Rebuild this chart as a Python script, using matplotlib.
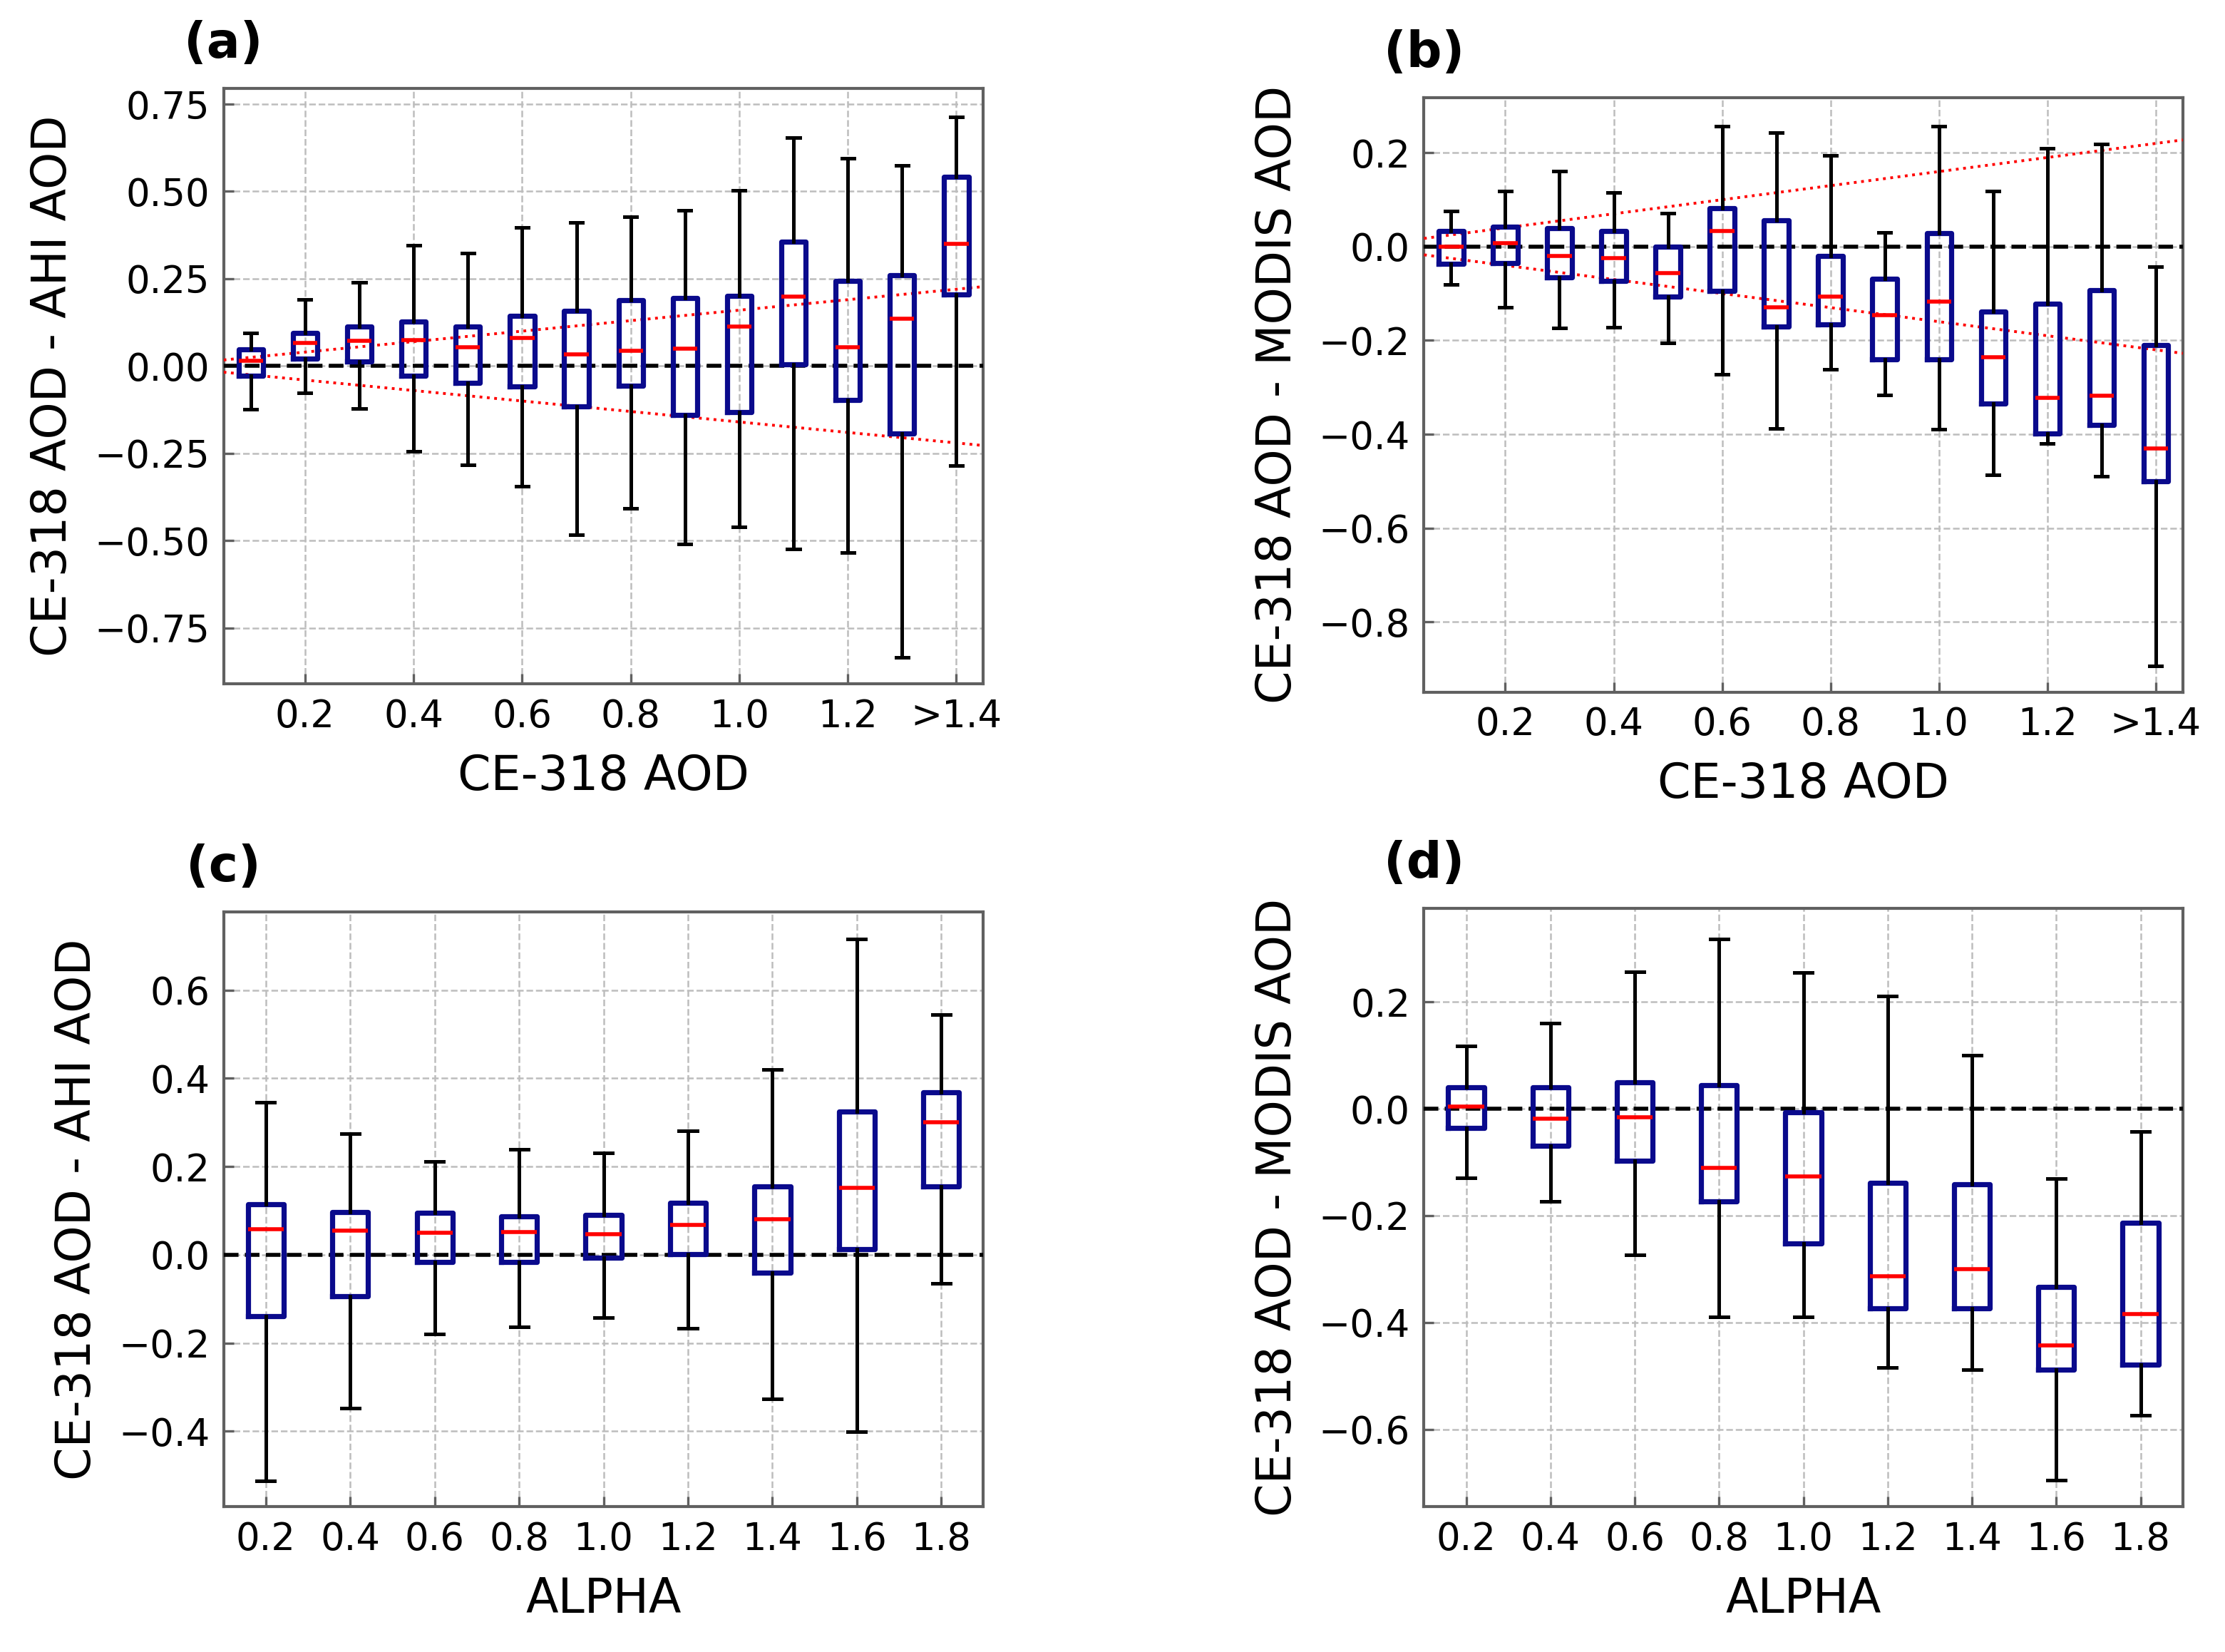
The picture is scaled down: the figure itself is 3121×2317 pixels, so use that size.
import numpy as np
import matplotlib
matplotlib.use("Agg")
import matplotlib.pyplot as plt

plt.rcParams["font.family"] = ["DejaVu Sans"]

# ---- data (box statistics) ----
# (a) CE-318 AOD - AHI AOD vs CE-318 AOD
a_pos = [0.1, 0.2, 0.3, 0.4, 0.5, 0.6, 0.7, 0.8, 0.9, 1.0, 1.1, 1.2, 1.3, 1.4]
a_whislo = [-0.124, -0.076, -0.122, -0.245, -0.283, -0.344, -0.483, -0.408, -0.510, -0.460, -0.524, -0.533, -0.833, -0.284]
a_q1 = [-0.027, 0.022, 0.014, -0.027, -0.049, -0.059, -0.115, -0.056, -0.139, -0.131, 0.005, -0.097, -0.194, 0.205]
a_med = [0.016, 0.067, 0.073, 0.074, 0.054, 0.081, 0.033, 0.043, 0.049, 0.113, 0.199, 0.054, 0.135, 0.350]
a_q3 = [0.047, 0.095, 0.114, 0.128, 0.114, 0.143, 0.158, 0.188, 0.194, 0.201, 0.356, 0.243, 0.261, 0.542]
a_whishi = [0.095, 0.190, 0.239, 0.345, 0.324, 0.396, 0.411, 0.428, 0.446, 0.503, 0.654, 0.595, 0.575, 0.713]

# (b) CE-318 AOD - MODIS AOD vs CE-318 AOD
b_pos = a_pos
b_whislo = [-0.081, -0.129, -0.174, -0.172, -0.205, -0.273, -0.388, -0.261, -0.317, -0.389, -0.486, -0.420, -0.489, -0.894]
b_q1 = [-0.037, -0.035, -0.065, -0.073, -0.106, -0.094, -0.170, -0.166, -0.240, -0.240, -0.335, -0.398, -0.380, -0.500]
b_med = [0.000, 0.007, -0.020, -0.024, -0.056, 0.033, -0.129, -0.106, -0.146, -0.117, -0.236, -0.323, -0.318, -0.431]
b_q3 = [0.034, 0.043, 0.039, 0.034, 0.000, 0.082, 0.056, -0.020, -0.068, 0.029, -0.139, -0.122, -0.093, -0.210]
b_whishi = [0.076, 0.119, 0.161, 0.116, 0.071, 0.257, 0.243, 0.194, 0.030, 0.256, 0.118, 0.210, 0.218, -0.043]

# (c) CE-318 AOD - AHI AOD vs ALPHA
c_pos = [0.2, 0.4, 0.6, 0.8, 1.0, 1.2, 1.4, 1.6, 1.8]
c_whislo = [-0.512, -0.348, -0.180, -0.163, -0.142, -0.167, -0.327, -0.401, -0.065]
c_q1 = [-0.140, -0.094, -0.017, -0.017, -0.007, 0.002, -0.041, 0.012, 0.154]
c_med = [0.058, 0.054, 0.050, 0.052, 0.046, 0.068, 0.080, 0.152, 0.301]
c_q3 = [0.114, 0.096, 0.095, 0.087, 0.090, 0.118, 0.155, 0.325, 0.368]
c_whishi = [0.345, 0.274, 0.211, 0.239, 0.230, 0.281, 0.420, 0.715, 0.544]

# (d) CE-318 AOD - MODIS AOD vs ALPHA
d_pos = c_pos
d_whislo = [-0.129, -0.174, -0.273, -0.389, -0.390, -0.485, -0.489, -0.695, -0.574]
d_q1 = [-0.036, -0.069, -0.097, -0.173, -0.252, -0.374, -0.374, -0.489, -0.479]
d_med = [0.004, -0.019, -0.016, -0.111, -0.126, -0.314, -0.300, -0.443, -0.384]
d_q3 = [0.040, 0.040, 0.049, 0.044, -0.006, -0.139, -0.141, -0.333, -0.213]
d_whishi = [0.118, 0.160, 0.256, 0.318, 0.255, 0.211, 0.100, -0.131, -0.043]

aod_ticks = [0.2, 0.4, 0.6, 0.8, 1.0, 1.2, 1.4]
aod_ticklabels = ["0.2", "0.4", "0.6", "0.8", "1.0", "1.2", ">1.4"]
alpha_ticks = c_pos
alpha_ticklabels = ["0.2", "0.4", "0.6", "0.8", "1.0", "1.2", "1.4", "1.6", "1.8"]

# expected error envelope +-(EE_OFFSET + EE_SLOPE * AOD)
EE_OFFSET = 0.01
EE_SLOPE = 0.15

BOX_BLUE = "#0a0a8c"
SPINE = "#606060"


def _stats(whislo, q1, med, q3, whishi):
    return [
        dict(whislo=lo, q1=a, med=m, q3=b, whishi=hi, fliers=[])
        for lo, a, m, b, hi in zip(whislo, q1, med, q3, whishi)
    ]


def _panel(fig, rect, letter, stats, pos, width, xlim, ylim, yticks,
           xticks, xticklabels, xlabel, ylabel, envelope):
    ax = fig.add_axes(rect)
    ax.set_xlim(*xlim)
    ax.set_ylim(*ylim)
    ax.set_axisbelow(True)
    ax.grid(True, color="#bdbdbd", linestyle="--", linewidth=0.9)

    ax.axhline(0, color="black", linestyle="--", linewidth=2.0, zorder=3)
    if envelope:
        xs = np.array(xlim)
        ax.plot(xs, EE_OFFSET + EE_SLOPE * xs, color="red", linestyle=":",
                linewidth=1.4, zorder=3)
        ax.plot(xs, -(EE_OFFSET + EE_SLOPE * xs), color="red", linestyle=":",
                linewidth=1.4, zorder=3)

    ax.bxp(
        stats,
        positions=pos,
        widths=width,
        showfliers=False,
        manage_ticks=False,
        boxprops=dict(color=BOX_BLUE, linewidth=2.6),
        medianprops=dict(color="red", linewidth=2.0),
        whiskerprops=dict(color="black", linewidth=1.8, linestyle="-"),
        capprops=dict(color="black", linewidth=1.8),
        zorder=4,
    )

    ax.set_xticks(xticks)
    ax.set_xticklabels(xticklabels)
    ax.set_yticks(yticks)
    ax.tick_params(direction="in", length=5, width=1.2, color=SPINE,
                   labelsize=19, pad=7)
    for sp in ax.spines.values():
        sp.set_color(SPINE)
        sp.set_linewidth(1.5)
    ax.set_xlabel(xlabel, fontsize=24, labelpad=9)
    ax.set_ylabel(ylabel, fontsize=24, labelpad=9)
    ax.text(0.0, 1.075, letter, transform=ax.transAxes, fontsize=25,
            fontweight="bold", ha="center", va="center")
    return ax


fig = plt.figure(figsize=(15.605, 11.585), dpi=200)

_panel(fig, [0.1005, 0.586, 0.3415, 0.3605], "(a)",
       _stats(a_whislo, a_q1, a_med, a_q3, a_whishi), a_pos, 0.045,
       (0.05, 1.45), (-0.91, 0.795),
       [-0.75, -0.5, -0.25, 0.0, 0.25, 0.5, 0.75],
       aod_ticks, aod_ticklabels, "CE-318 AOD", "CE-318 AOD - AHI AOD", True)

_panel(fig, [0.640, 0.581, 0.341, 0.36], "(b)",
       _stats(b_whislo, b_q1, b_med, b_q3, b_whishi), b_pos, 0.045,
       (0.05, 1.45), (-0.95, 0.318),
       [-0.8, -0.6, -0.4, -0.2, 0.0, 0.2],
       aod_ticks, aod_ticklabels, "CE-318 AOD", "CE-318 AOD - MODIS AOD", True)

_panel(fig, [0.1005, 0.088, 0.3415, 0.36], "(c)",
       _stats(c_whislo, c_q1, c_med, c_q3, c_whishi), c_pos, 0.085,
       (0.1, 1.9), (-0.571, 0.777),
       [-0.4, -0.2, 0.0, 0.2, 0.4, 0.6],
       alpha_ticks, alpha_ticklabels, "ALPHA", "CE-318 AOD - AHI AOD", False)

_panel(fig, [0.640, 0.088, 0.341, 0.362], "(d)",
       _stats(d_whislo, d_q1, d_med, d_q3, d_whishi), d_pos, 0.085,
       (0.1, 1.9), (-0.745, 0.375),
       [-0.6, -0.4, -0.2, 0.0, 0.2],
       alpha_ticks, alpha_ticklabels, "ALPHA", "CE-318 AOD - MODIS AOD", False)

fig.savefig("out.png", dpi=200)
plt.close(fig)
